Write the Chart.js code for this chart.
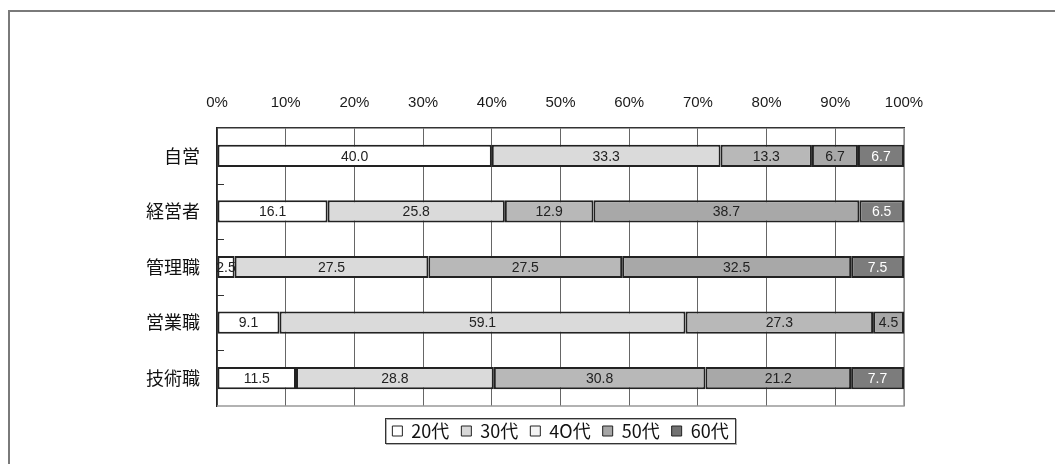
<!DOCTYPE html>
<html>
<head>
<meta charset="utf-8">
<script src="https://cdn.jsdelivr.net/npm/chart.js@4"></script>
<style>
    body { margin: 0; background: #fff; }
    #frame {
        position: absolute; left: 8px; top: 10px; width: 1100px; height: 500px;
        border-top: 2px solid #7a7a7a; border-left: 2px solid #7a7a7a;
    }
    #chart { position: absolute; left: 0; top: 0; }
</style>
</head>
<body>
<div id="frame"></div>
<canvas id="chart" width="1055" height="464"></canvas>
<script>
// Job categories and the share of each age group (%)
const categories = ['自営', '経営者', '管理職', '営業職', '技術職'];
const ageGroups = ['20代', '30代', '4O代', '50代', '60代'];
const age20 = [40.0, 16.1, 2.5, 9.1, 11.5];
const age30 = [33.3, 25.8, 27.5, 59.1, 28.8];
const age40 = [13.3, 12.9, 27.5, 27.3, 30.8];
const age50 = [6.7, 38.7, 32.5, 4.5, 21.2];
const age60 = [6.7, 6.5, 7.5, 0, 7.7];
const xTicks = [0, 10, 20, 30, 40, 50, 60, 70, 80, 90, 100];

const seriesColors = ['#ffffff', '#dadada', '#b8b8b8', '#a8a8a8', '#7c7c7c'];
const legendColors = ['#ffffff', '#d8d8d8', '#f4f4f4', '#a6a6a6', '#727272'];
const labelColors = ['#222', '#222', '#222', '#222', '#fff'];

const allSeries = [age20, age30, age40, age50, age60];

// 100% stacked: each row is scaled by its own total
const rowTotals = categories.map((c, i) => allSeries.reduce((s, arr) => s + arr[i], 0));

const datasets = allSeries.map((values, k) => ({
    label: ageGroups[k],
    raw: values,
    data: values.map((v, i) => v / rowTotals[i] * 100),
    backgroundColor: seriesColors[k],
    borderColor: '#222',
    borderWidth: 2,
    borderSkipped: false,
    categoryPercentage: 1,
    barPercentage: 0.4
}));

// value labels in the middle of every segment
const segmentLabels = {
    id: 'segmentLabels',
    afterDatasetsDraw(chart) {
        const ctx = chart.ctx;
        ctx.save();
        ctx.font = '14px "Liberation Sans", Arial, sans-serif';
        ctx.textAlign = 'center';
        ctx.textBaseline = 'middle';
        chart.data.datasets.forEach((ds, k) => {
            chart.getDatasetMeta(k).data.forEach((bar, i) => {
                const v = ds.raw[i];
                if (!v) return;
                ctx.fillStyle = labelColors[k];
                ctx.fillText(v.toFixed(1), (bar.x + bar.base) / 2, bar.y + 1);
            });
        });
        ctx.restore();
    }
};

// plot frame, category separators on the left axis and the legend box
const chartFrame = {
    id: 'chartFrame',
    afterLayout(chart) {
        // centre the legend under the plot area and drop it a little
        const lg = chart.legend;
        lg.left = chart.chartArea.left;
        lg.right = chart.chartArea.right;
        lg.top += 4;
        lg.bottom += 4;
    },
    beforeDatasetsDraw(chart) {
        const a = chart.chartArea;
        const ctx = chart.ctx;
        ctx.save();
        ctx.strokeStyle = '#999';
        ctx.lineWidth = 1.5;
        ctx.beginPath();
        ctx.moveTo(a.right, a.top);
        ctx.lineTo(a.right, a.bottom);
        ctx.lineTo(a.left, a.bottom);
        ctx.stroke();
        ctx.restore();
    },
    afterDraw(chart) {
        const a = chart.chartArea;
        const y = chart.scales.y;
        const ctx = chart.ctx;
        ctx.save();
        ctx.strokeStyle = '#333';
        ctx.lineWidth = 1;
        for (let i = 0; i < categories.length - 1; i++) {
            const py = Math.round((y.getPixelForValue(i) + y.getPixelForValue(i + 1)) / 2) + 0.5;
            ctx.beginPath();
            ctx.moveTo(a.left, py);
            ctx.lineTo(a.left + 7, py);
            ctx.stroke();
        }
        const boxes = chart.legend.legendHitBoxes;
        if (boxes.length) {
            const first = boxes[0], last = boxes[boxes.length - 1];
            const left = Math.round(first.left) - 6.5;
            const right = Math.round(last.left + last.width) + 6.5;
            const top = Math.round(first.top) - 3.5;
            const bottom = Math.round(first.top + first.height) + 3.5;
            ctx.strokeStyle = '#b0b0b0';
            ctx.strokeRect(left + 1, top + 1, right - left, bottom - top);
            ctx.strokeStyle = '#333';
            ctx.strokeRect(left, top, right - left, bottom - top);
        }
        ctx.restore();
    }
};

new Chart(document.getElementById('chart'), {
    type: 'bar',
    data: { labels: categories, datasets: datasets },
    options: {
        indexAxis: 'y',
        responsive: false,
        animation: false,
        layout: { padding: { top: 0, right: 151, bottom: 18, left: 0 } },
        scales: {
            x: {
                position: 'top',
                stacked: true,
                min: 0,
                max: 100,
                afterBuildTicks: scale => { scale.ticks = xTicks.map(v => ({ value: v })); },
                afterFit: scale => { scale.height = 128; },
                ticks: {
                    padding: 16,
                    color: '#1a1a1a',
                    font: { family: '"Liberation Sans", Arial, sans-serif', size: 15 },
                    callback: v => v + '%'
                },
                grid: { color: '#666', lineWidth: 1, drawTicks: false },
                border: { color: '#333', width: 1.5 }
            },
            y: {
                stacked: true,
                afterFit: scale => { scale.width = 217; },
                ticks: {
                    padding: 17,
                    color: '#111',
                    font: { family: '"Noto Sans CJK JP", sans-serif', size: 18 }
                },
                grid: { display: false, drawTicks: false },
                border: { color: '#222', width: 1.5 }
            }
        },
        plugins: {
            tooltip: { enabled: false },
            legend: {
                position: 'bottom',
                labels: {
                    boxWidth: 10,
                    boxHeight: 10,
                    padding: 12,
                    color: '#111',
                    font: { family: '"Noto Sans CJK JP", sans-serif', size: 18 },
                    generateLabels(chart) {
                        return Chart.defaults.plugins.legend.labels.generateLabels(chart).map((item, k) => {
                            item.fillStyle = legendColors[k];
                            item.strokeStyle = '#222';
                            item.lineWidth = 1;
                            return item;
                        });
                    }
                }
            }
        }
    },
    plugins: [segmentLabels, chartFrame]
});
</script>
</body>
</html>
